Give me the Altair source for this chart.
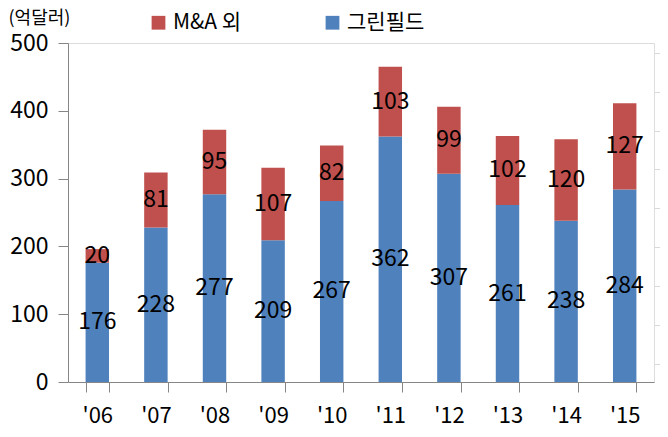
import altair as alt
import pandas as pd

years = ["'06", "'07", "'08", "'09", "'10", "'11", "'12", "'13", "'14", "'15"]
greenfield = [176, 228, 277, 209, 267, 362, 307, 261, 238, 284]
mna = [20, 81, 95, 107, 82, 103, 99, 102, 120, 127]
series = ["M&A 외", "그린필드"]
colors = ["#C0504D", "#4F81BD"]
y_ticks = [0, 100, 200, 300, 400, 500]
right_ticks = [0, 1, 2, 3, 4, 5, 6, 7, 8, 9]

rows = []
for i, yr in enumerate(years):
    rows.append({"year": yr, "series": "그린필드", "value": greenfield[i], "ord": 0})
    rows.append({"year": yr, "series": "M&A 외", "value": mna[i], "ord": 1})
df = pd.DataFrame(rows)

KR = "Noto Sans CJK KR"
NUM = "Noto Sans CJK KR"

x_enc = alt.X("year:N", sort=years,
              scale=alt.Scale(paddingInner=0.6, paddingOuter=0.3),
              axis=alt.Axis(title=None, labelFont=NUM, labelFontSize=22, labelColor="#000",
                            labelAngle=0, labelPadding=13, tickBand="extent", tickSize=10,
                            domainColor="#868686", tickColor="#868686", grid=False))

bars = alt.Chart(df).mark_bar().encode(
    x=x_enc,
    y=alt.Y("value:Q", stack="zero",
            scale=alt.Scale(domain=[0, 500], nice=False),
            axis=alt.Axis(values=y_ticks, title="(억달러)", titleFont=KR, titleFontSize=18,
                          titleFontWeight="normal", titleAngle=0, titleAlign="left",
                          titleBaseline="middle", titleX=-60, titleY=-25, titleColor="#000",
                          labelFont=NUM, labelFontSize=23, labelColor="#000", labelPadding=10,
                          tickSize=10, domainColor="#868686", tickColor="#868686", grid=False)),
    color=alt.Color("series:N", scale=alt.Scale(domain=series, range=colors),
                    legend=alt.Legend(title=None, orient="none", legendX=80, legendY=-31,
                                      direction="horizontal", symbolType="square", symbolSize=190,
                                      symbolStrokeWidth=0, labelFont=KR, labelFontSize=21,
                                      labelColor="#000", labelOffset=4, columnPadding=80)),
    order=alt.Order("ord:Q", sort="ascending"),
)

texts = alt.Chart(df).transform_stack(
    stack="value", groupby=["year"], as_=["v0", "v1"], sort=[alt.SortField("ord", order="ascending")]
).transform_calculate(
    mid="(datum.v0 + datum.v1) / 2"
).mark_text(font=NUM, fontSize=23, color="#000", baseline="middle").encode(
    x=alt.X("year:N", sort=years),
    y=alt.Y("mid:Q", scale=alt.Scale(domain=[0, 500], nice=False)),
    text="value:Q",
)

right = alt.Chart(pd.DataFrame({"r": right_ticks})).mark_point(opacity=0).encode(
    y=alt.Y("r:Q", scale=alt.Scale(domain=[0.537, 9.25], nice=False, zero=False),
            axis=alt.Axis(orient="right", values=right_ticks, labels=False, domain=False,
                          title=None, tickSize=6, tickColor="#d9d9d9", grid=False)),
)

chart = alt.layer(alt.layer(bars, texts), right).resolve_scale(y="independent").properties(
    width=586, height=339,
    autosize=alt.AutoSizeParams(type="none"),
    padding={"left": 60, "top": 35, "right": 6, "bottom": 47},
).configure_view(stroke=None).configure(background="white")

chart.save("out.html", embed_options={"renderer": "svg", "actions": False})
